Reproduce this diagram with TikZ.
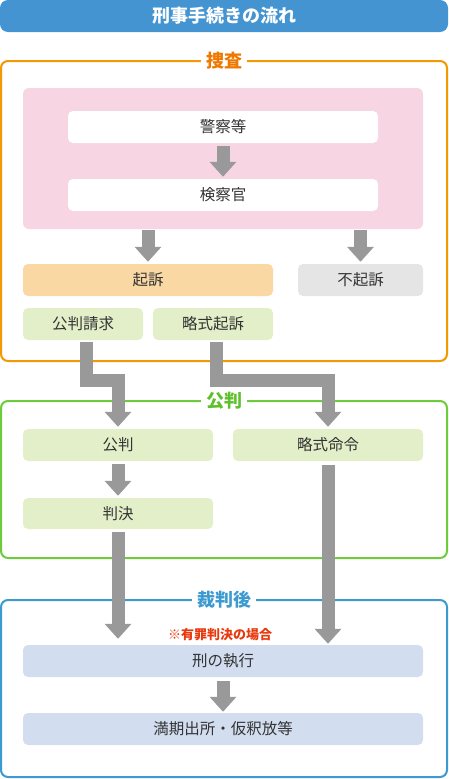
\documentclass[tikz,border=0pt]{standalone}
\usepackage{fontspec}
\setmainfont{Noto Sans CJK JP}
\usepackage{tikz}
\usetikzlibrary{arrows.meta}
\definecolor{titleblue}{HTML}{4394D0}
\definecolor{textgray}{HTML}{333333}
\definecolor{arrowgray}{HTML}{999999}
\definecolor{sosaorange}{HTML}{F39800}
\definecolor{sosalabel}{HTML}{EE7800}
\definecolor{kohangreen}{HTML}{6DCB3D}
\definecolor{kohanlabel}{HTML}{5EC02C}
\definecolor{saibanblue}{HTML}{3C9AD0}
\definecolor{notered}{HTML}{E8380D}
\definecolor{pinkfill}{HTML}{F7D5E3}
\definecolor{peachfill}{HTML}{FAD8A3}
\definecolor{grayfill}{HTML}{E5E5E5}
\definecolor{greenfill}{HTML}{E2EFC8}
\definecolor{bluefill}{HTML}{D2DDF0}

\tikzset{
	box/.style={rounded corners=5pt, minimum height=32pt, inner sep=0pt, text=textgray, font=\fontsize{15.5}{16}\selectfont},
	flow/.style={draw=arrowgray, line width=13pt, -{Triangle[width=26pt,length=15pt]}},
	frame/.style={rounded corners=7pt, line width=2pt},
	framelabel/.style={fill=white, inner xsep=5pt, inner ysep=0pt, font=\fontsize{18}{18}\bfseries\selectfont}
}

\begin{document}
\begin{tikzpicture}[x=1pt, y=-1pt]
			\useasboundingbox (0,0) rectangle (448,779);
			
			% title
			\node (title) at (224,16) [fill=titleblue, rounded corners=8pt, minimum width=448pt, minimum height=32pt, inner sep=0pt, text=white, font=\fontsize{18}{18}\bfseries\selectfont] {刑事手続きの流れ};
			
			% frames
			\draw [frame, draw=sosaorange] (1,61) rectangle (447,361);
			\draw [frame, draw=kohangreen] (1,401) rectangle (447,558);
			\draw [frame, draw=saibanblue] (1,600) rectangle (447,777);
			\node (sosa) at (224,61) [framelabel, text=sosalabel] {捜査};
			\node (kohanlbl) at (224,401) [framelabel, text=kohanlabel] {公判};
			\node (saibango) at (224,600) [framelabel, text=saibanblue] {裁判後};
			
			% sosa
			\node (pinkarea) at (223,158.5) [fill=pinkfill, rounded corners=6pt, minimum width=400pt, minimum height=141pt, inner sep=0pt] {};
			\node (keisatsu) at (223,127) [box, fill=white, minimum width=310pt] {警察等};
			\node (kensatsu) at (223,195) [box, fill=white, minimum width=310pt] {検察官};
			\node (kiso) at (148,280) [box, fill=peachfill, minimum width=250pt] {起訴};
			\node (fukiso) at (360.5,280) [box, fill=grayfill, minimum width=125pt] {不起訴};
			\node (seikyu) at (83,324) [box, fill=greenfill, minimum width=120pt] {公判請求};
			\node (ryakuki) at (213,324) [box, fill=greenfill, minimum width=120pt] {略式起訴};
			
			% kohan
			\node (kohan) at (118,445) [box, fill=greenfill, minimum width=190pt] {公判};
			\node (ryakumei) at (328,445) [box, fill=greenfill, minimum width=190pt] {略式命令};
			\node (hanketsu) at (118,513.5) [box, fill=greenfill, minimum width=190pt, minimum height=31pt] {判決};
			
			% saiban go
			\node (note) at (220,635) [text=notered, inner sep=0pt, font=\fontsize{13}{13}\bfseries\selectfont] {※有罪判決の場合};
			\node (shikko) at (223,661) [box, fill=bluefill, minimum width=400pt] {刑の執行};
			\node (manki) at (223,729) [box, fill=bluefill, minimum width=400pt] {満期出所・仮釈放等};
			
			% arrows
			\draw [flow, shorten <=3pt, shorten >=2pt] (keisatsu.south) -- (kensatsu.north);
			\draw [flow, shorten <=1pt, shorten >=2pt] (kiso.north |- pinkarea.south) -- (kiso.north);
			\draw [flow, shorten <=1pt, shorten >=2pt] (fukiso.north |- pinkarea.south) -- (fukiso.north);
			\draw [flow, shorten <=2pt] ([xshift=3pt]seikyu.south) -- ++(0,40) -| ([yshift=2pt]kohan.north);
			\draw [flow, shorten <=2pt] ([xshift=3pt]ryakuki.south) -- ++(0,40) -| ([yshift=2pt]ryakumei.north);
			\draw [flow, shorten <=3pt, shorten >=2pt] (kohan.south) -- (hanketsu.north);
			\draw [flow, shorten <=3pt] (hanketsu.south) -- ([yshift=6pt]hanketsu.south |- shikko.north);
			\draw [flow, shorten <=4pt] (ryakumei.south) -- ([yshift=1pt]ryakumei.south |- shikko.north);
			\draw [flow, shorten <=4pt, shorten >=1pt] (shikko.south) -- (manki.north);
		\end{tikzpicture}
\end{document}
